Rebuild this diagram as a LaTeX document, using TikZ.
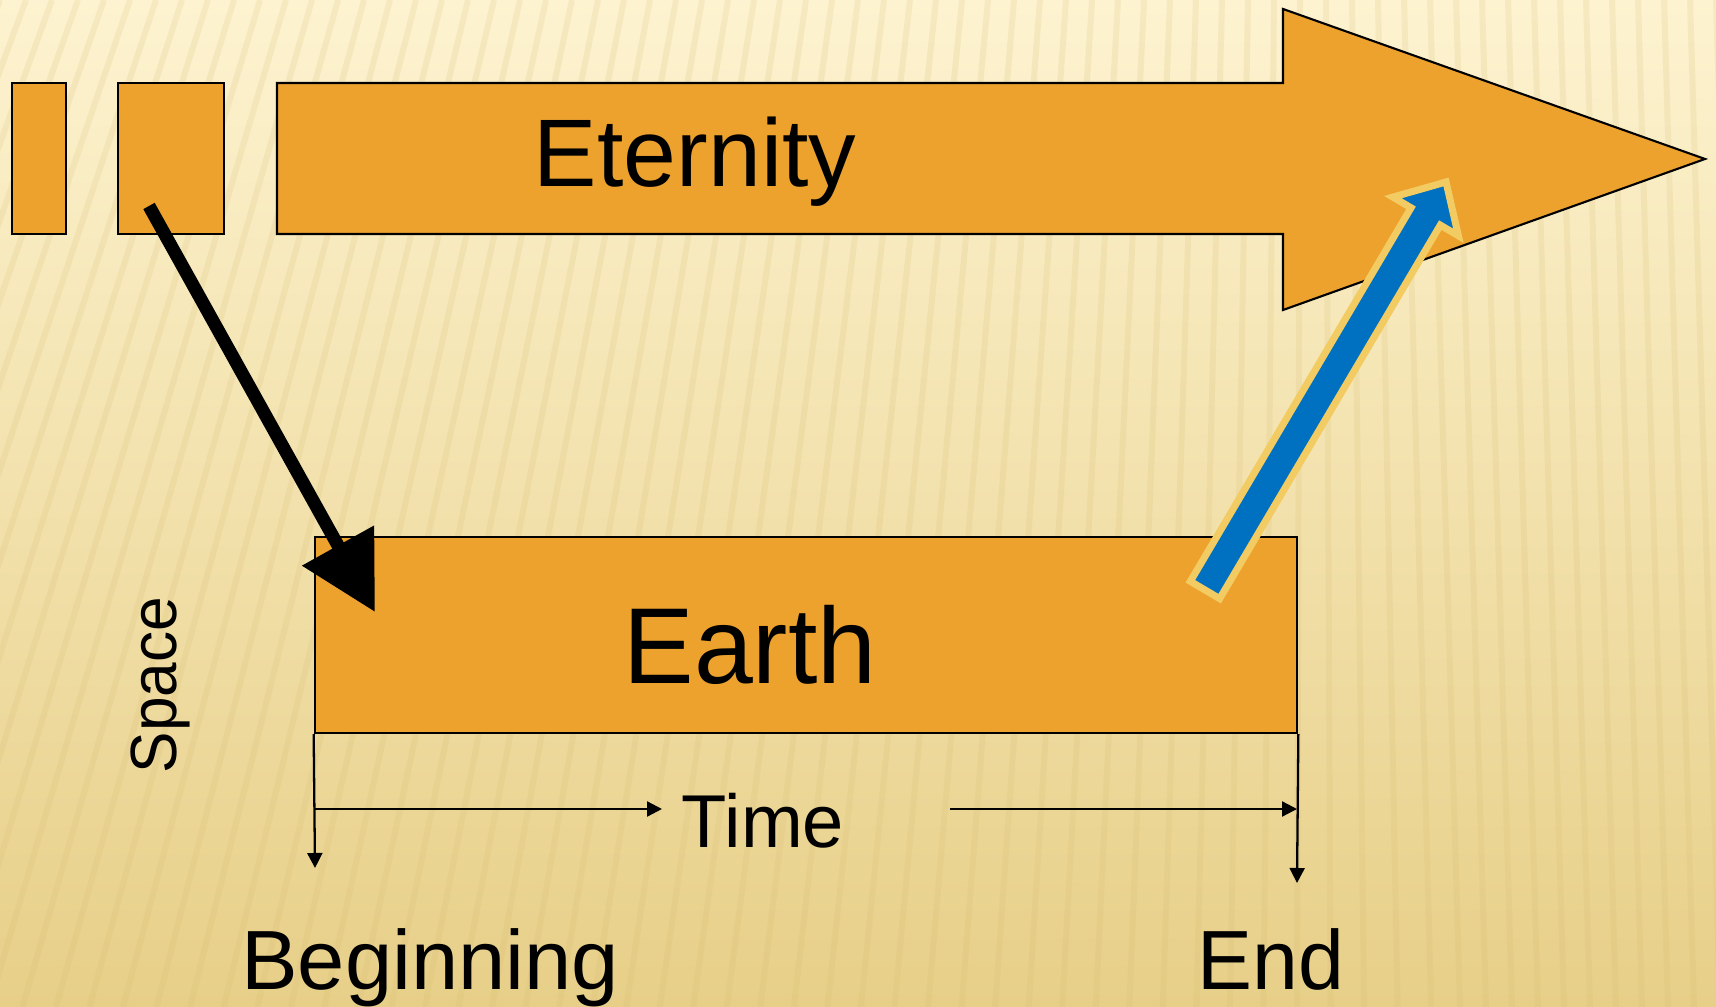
\documentclass[tikz,border=0pt]{standalone}
\usepackage{fontspec}
\setmainfont{Liberation Sans}
\usetikzlibrary{arrows.meta,calc}
\definecolor{bgtop}{RGB}{253,243,208}
\definecolor{bgbot}{RGB}{231,207,136}
\definecolor{stripe}{RGB}{212,184,108}
\definecolor{shapeorange}{RGB}{238,162,46}
\definecolor{riseblue}{RGB}{0,112,192}
\definecolor{riserim}{RGB}{242,204,98}
\begin{document}
\begin{tikzpicture}[x=0.01cm, y=-0.01cm, >={Triangle[length=0.15cm, width=0.15cm]},
    block/.style={draw=black, line width=0.6pt, fill=shapeorange, inner sep=0pt},
    timeline/.style={line width=0.65pt, ->},
    txt/.style={anchor=base, inner sep=0pt}]
% Hintergrund mit Streifen
\shade[top color=bgtop, bottom color=bgbot] (0,0) rectangle (1716,1007);
\useasboundingbox (0,0) rectangle (1716,1007);
\begin{scope}
\clip (0,0) rectangle (1716,1007);
\foreach \x in {0,26,...,1750} {
    \pgfmathsetmacro{\xb}{\x - max(380 - 0.29*\x, -30)}
    \draw[stripe, line width=1.7pt, opacity=0.16] (\x,0) -- (\xb,1007);
}
\end{scope}
% Luecken links
\node[block, minimum width=0.54cm, minimum height=1.51cm] (gapA) at (39,158.5) {};
\node[block, minimum width=1.06cm, minimum height=1.51cm] (gapB) at (171,158.5) {};
% Pfeil Eternity
\filldraw[fill=shapeorange, line width=0.6pt] (277,83) -- (1283,83) -- (1283,9)
    -- (1705,159) -- (1283,310) -- (1283,234) -- (277,234) -- cycle;
\node[txt, font=\fontsize{27.3}{30}\selectfont, xscale=0.99] (eternity) at (695,187) {Eternity};
% Kasten Earth
\node[block, minimum width=9.82cm, minimum height=1.96cm] (earth) at (806,635) {};
\node[txt, font=\fontsize{30.7}{34}\selectfont, xscale=0.98] (earthtext) at (750,683) {Earth};
% Space
\node[txt, font=\fontsize{18.6}{20}\selectfont, rotate=90, xscale=0.95] (space) at (176,685) {Space};
% schwarzer Pfeil nach unten
\coordinate (fall) at (149,206);
\coordinate (land) at (375,612);
\draw[line width=0.13cm, -{Triangle[length=0.76cm, width=0.79cm]}] (fall) -- (land);
% blauer Pfeil nach oben
\coordinate (rise) at (1205,590);
\coordinate (peak) at (1446,182);
\coordinate (neck) at ($(peak)!0.40cm!(rise)$);
\filldraw[fill=riseblue, draw=riserim, line width=0.07cm, line join=miter]
    ($(rise)!0.17cm!90:(peak)$) -- ($(neck)!0.17cm!90:(peak)$)
    -- ($(neck)!0.38cm!90:(peak)$) -- (peak)
    -- ($(neck)!0.38cm!-90:(peak)$) -- ($(neck)!0.17cm!-90:(peak)$)
    -- ($(rise)!0.17cm!-90:(peak)$) -- cycle;
% Zeitachse
\coordinate (begdown) at (315,868);
\coordinate (enddown) at (1297,883);
\coordinate (spanA) at (315,809);
\coordinate (spanB) at (662,809);
\coordinate (spanC) at (950,809);
\coordinate (spanD) at (1297,809);
\draw[timeline] (earth.south west) -- (begdown);
\draw[timeline] (earth.south east) -- (enddown);
\draw[timeline] (spanA) -- (spanB);
\draw[timeline] (spanC) -- (spanD);
\node[txt, font=\fontsize{21.3}{24}\selectfont, xscale=0.99] (time) at (763,847) {Time};
\node[txt, font=\fontsize{23.9}{26}\selectfont, xscale=1.01] (beginning) at (430,989) {Beginning};
\node[txt, font=\fontsize{23.9}{26}\selectfont, xscale=0.98] (end) at (1271,989) {End};
\end{tikzpicture}
\end{document}
